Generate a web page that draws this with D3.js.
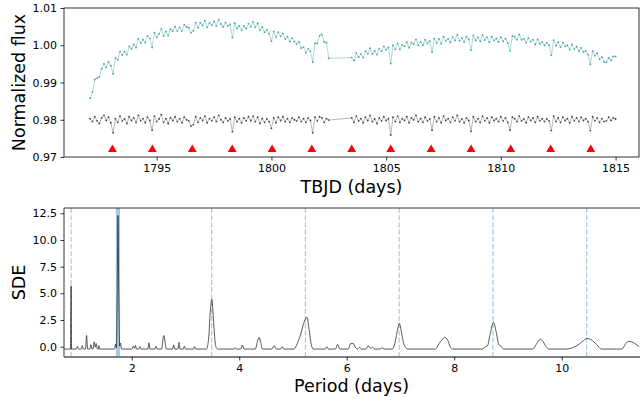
<!DOCTYPE html>
<html><head><meta charset="utf-8">
<script src="https://cdn.jsdelivr.net/npm/d3@7"></script>
<style>
body{margin:0;background:#fff;}
svg text{font-family:"DejaVu Sans",sans-serif;fill:#000;}
</style>
</head><body>
<svg id="c" width="640" height="401"></svg>
<script>
// ---------------- DATA ----------------
const orbitStarts = [1792.1, 1803.5];
const cadence = 0.1;
const rawFluxOrbit1 = [
0.9858,0.9875,0.9908,0.9912,0.9915,0.9937,0.9950,0.9941,0.9955,0.9945,
0.9923,0.9966,0.9961,0.9983,0.9974,0.9983,0.9975,0.9997,0.9991,1.0002,
0.9994,1.0017,1.0006,1.0015,1.0007,1.0025,1.0018,0.9994,1.0034,1.0021,
1.0030,1.0044,1.0025,1.0037,1.0026,1.0043,1.0038,1.0050,1.0038,1.0048,
1.0038,1.0055,1.0049,1.0047,1.0034,1.0039,1.0061,1.0047,1.0060,1.0053,
1.0066,1.0048,1.0060,1.0054,1.0064,1.0052,1.0069,1.0057,1.0049,1.0061,
1.0052,1.0056,1.0021,1.0059,1.0045,1.0052,1.0040,1.0052,1.0045,1.0058,
1.0050,1.0063,1.0048,1.0059,1.0040,1.0049,1.0035,1.0041,1.0031,1.0011,
1.0037,1.0022,1.0035,1.0024,1.0032,1.0017,1.0023,1.0010,1.0019,1.0010,
1.0003,1.0009,0.9992,0.9995,0.9980,0.9990,0.9984,0.9955,1.0005,1.0005,
1.0026,1.0029,1.0009,1.0007,0.9965];
const flatFluxOrbit1 = [
0.9803,0.9795,0.9808,0.9797,0.9790,0.9805,0.9812,0.9798,0.9807,0.9792,
0.9765,0.9803,0.9793,0.9810,0.9797,0.9802,0.9790,0.9808,0.9798,0.9805,
0.9793,0.9812,0.9797,0.9803,0.9792,0.9807,0.9798,0.9772,0.9810,0.9795,
0.9802,0.9814,0.9793,0.9803,0.9790,0.9805,0.9798,0.9808,0.9795,0.9803,
0.9792,0.9807,0.9800,0.9797,0.9783,0.9787,0.9808,0.9793,0.9805,0.9798,
0.9810,0.9792,0.9803,0.9797,0.9807,0.9795,0.9812,0.9800,0.9793,0.9805,
0.9797,0.9802,0.9768,0.9807,0.9795,0.9803,0.9792,0.9805,0.9797,0.9808,
0.9798,0.9810,0.9795,0.9807,0.9790,0.9803,0.9793,0.9802,0.9795,0.9777,
0.9805,0.9792,0.9807,0.9798,0.9808,0.9795,0.9803,0.9793,0.9805,0.9800,
0.9797,0.9807,0.9795,0.9803,0.9793,0.9805,0.9798,0.9765,0.9807,0.9797,
0.9808,0.9805,0.9793,0.9803,0.9799];
const rawFluxOrbit2 = [
0.9967,0.9959,0.9979,0.9968,0.9976,0.9967,0.9984,0.9977,0.9992,0.9977,
0.9985,0.9975,0.9991,0.9984,0.9997,0.9988,0.9994,0.9951,1.0000,0.9989,
1.0005,0.9989,1.0001,0.9997,1.0008,0.9993,1.0007,1.0003,1.0016,1.0000,
1.0009,1.0000,1.0015,1.0005,1.0011,0.9982,1.0018,1.0006,1.0017,1.0004,
1.0023,1.0012,1.0017,1.0008,1.0022,1.0013,1.0028,1.0012,1.0019,1.0009,
1.0023,1.0016,0.9987,1.0026,1.0013,1.0021,1.0011,1.0028,1.0014,1.0022,
1.0008,1.0023,1.0013,1.0018,1.0009,1.0022,1.0011,1.0018,1.0006,0.9985,
1.0025,1.0023,1.0015,1.0029,1.0015,1.0018,1.0007,1.0020,1.0010,1.0015,
1.0002,1.0016,1.0004,1.0009,1.0000,1.0006,1.0000,0.9973,1.0014,0.9999,
1.0008,0.9995,1.0007,0.9997,1.0000,0.9988,1.0002,0.9990,0.9996,0.9984,
0.9993,0.9982,0.9985,0.9975,0.9949,0.9984,0.9972,0.9978,0.9963,0.9968,
0.9955,0.9954,0.9966,0.9960,0.9970,0.9970];
const flatFluxOrbit2 = [
0.9805,0.9793,0.9810,0.9797,0.9803,0.9792,0.9807,0.9798,0.9812,0.9795,
0.9802,0.9790,0.9805,0.9797,0.9808,0.9798,0.9803,0.9759,0.9807,0.9795,
0.9810,0.9793,0.9803,0.9798,0.9808,0.9792,0.9805,0.9800,0.9812,0.9795,
0.9803,0.9793,0.9807,0.9797,0.9802,0.9772,0.9808,0.9795,0.9805,0.9792,
0.9810,0.9798,0.9803,0.9793,0.9807,0.9797,0.9812,0.9795,0.9802,0.9792,
0.9805,0.9798,0.9769,0.9808,0.9795,0.9803,0.9793,0.9810,0.9797,0.9805,
0.9792,0.9807,0.9798,0.9803,0.9795,0.9808,0.9797,0.9805,0.9793,0.9772,
0.9807,0.9803,0.9795,0.9810,0.9797,0.9802,0.9792,0.9807,0.9798,0.9805,
0.9793,0.9808,0.9797,0.9803,0.9795,0.9802,0.9797,0.9771,0.9810,0.9795,
0.9805,0.9793,0.9807,0.9798,0.9803,0.9792,0.9808,0.9797,0.9805,0.9795,
0.9807,0.9798,0.9803,0.9795,0.9771,0.9808,0.9797,0.9805,0.9793,0.9803,
0.9795,0.9797,0.9807,0.9798,0.9805,0.9802];
const transitTimes = [1793.07,1794.81,1796.55,1798.29,1800.03,1801.76,1803.50,1805.20,1806.96,1808.70,1810.43,1812.17,1813.92];
const transitMarkerLevel = 0.972;

const periodGrid = [0.745,0.862,0.872,0.880,0.97,0.99,1.01,1.06,1.08,1.10,1.14,1.16,1.18,1.22,1.24,1.26,1.28,1.30,1.32,1.34,1.36,1.38,1.39,1.40,
1.68,1.70,1.715,1.73,1.744,1.758,1.775,1.79,1.81,2.00,2.03,2.05,2.07,2.09,2.13,2.15,2.17,2.30,2.32,2.34,2.43,2.45,2.47,2.56,2.58,2.60,2.62,2.64,
2.76,2.78,2.80,2.86,2.88,2.90,2.96,2.98,3.00,3.15,3.17,3.19,3.39,3.43,3.46,3.49,3.52,3.55,3.58,3.61,3.90,3.92,3.95,4.03,4.06,4.09,
4.30,4.34,4.37,4.40,4.43,4.61,4.65,4.69,4.77,4.80,4.83,5.02,5.08,5.14,5.20,5.26,5.30,5.34,5.38,5.60,5.63,5.66,5.79,5.83,5.87,
6.03,6.07,6.12,6.16,6.20,6.24,6.27,6.36,6.40,6.44,6.48,6.52,6.62,6.66,6.70,6.85,6.90,6.95,6.98,7.02,7.06,7.10,7.14,
7.65,7.72,7.78,7.82,7.88,7.93,7.97,8.52,8.58,8.62,8.67,8.73,8.78,8.83,8.87,8.92,9.46,9.53,9.60,9.65,9.71,9.76,
10.10,10.20,10.30,10.40,10.47,10.55,10.65,10.74,11.12,11.18,11.24,11.30,11.36,11.44];
const sdePower = [-0.22,-0.22,5.7,-0.22,-0.22,0.05,-0.22,-0.22,0.1,-0.22,-0.22,1.05,-0.22,-0.22,0.2,-0.22,-0.22,0.45,-0.05,0.3,-0.22,-0.22,0.1,-0.22,
-0.22,0.25,-0.1,5.5,12.3,5.5,0.05,0.35,-0.22,-0.22,0.05,-0.15,0.12,-0.22,-0.22,0.0,-0.22,-0.22,0.37,-0.22,-0.22,0.05,-0.22,-0.22,0.7,1.05,0.45,-0.22,
-0.22,0.15,-0.22,-0.22,0.4,-0.22,-0.22,0.05,-0.22,-0.22,0.0,-0.22,-0.22,0.7,3.2,4.44,2.6,0.5,-0.15,-0.22,-0.22,-0.1,-0.22,-0.22,0.16,-0.22,
-0.22,0.5,0.88,0.4,-0.22,-0.22,0.1,-0.22,-0.22,0.0,-0.22,-0.22,0.3,1.1,2.2,2.75,1.6,0.2,-0.22,-0.22,0.0,-0.22,-0.22,0.22,-0.22,
-0.22,0.28,0.3,-0.05,-0.22,-0.05,-0.22,-0.22,0.1,-0.15,-0.05,-0.22,-0.22,-0.1,-0.22,-0.22,0.4,1.7,2.19,1.3,0.3,-0.1,-0.22,
-0.22,0.3,0.7,0.88,0.6,-0.05,-0.22,-0.22,0.0,0.1,1.2,2.29,1.4,0.2,0.05,-0.22,-0.22,0.25,0.69,0.5,0.0,-0.22,
-0.22,-0.1,0.15,0.55,0.78,0.65,0.2,-0.22,-0.22,0.2,0.5,0.45,0.3,0.0];
const bestPeriod = 1.744;
const harmonicPeriods = [0.872,3.488,5.232,6.976,8.720,10.464];

const fluxTicks = [0.97,0.98,0.99,1.00,1.01];
const timeTicks = [1795,1800,1805,1810,1815];
const sdeTicks = [0,2.5,5,7.5,10,12.5];
const periodTicks = [2,4,6,8,10];

// ---------------- BUILD ----------------
const svg = d3.select("#c");
const lcPoints = [];
[[rawFluxOrbit1, flatFluxOrbit1],[rawFluxOrbit2, flatFluxOrbit2]].forEach(([raw, flat], k) => {
  raw.forEach((v, i) => lcPoints.push({t: orbitStarts[k] + i*cadence, raw: v, flat: flat[i]}));
});
const pg = periodGrid.map((p, i) => ({p, s: sdePower[i]}));

// top panel
const T = {l:64, r:639, t:8, b:157};
const x1 = d3.scaleLinear().domain([1790.96, 1816.02]).range([T.l, T.r]);
const y1 = d3.scaleLinear().domain([0.97, 1.01]).range([T.b, T.t]);

const defs = svg.append("defs");
defs.append("clipPath").attr("id","clipTop").append("rect").attr("x",T.l).attr("y",T.t).attr("width",T.r-T.l).attr("height",T.b-T.t);

const gTop = svg.append("g").attr("clip-path","url(#clipTop)");
const lineRaw = d3.line().x(d=>x1(d.t)).y(d=>y1(d.raw));
const lineFlat = d3.line().x(d=>x1(d.t)).y(d=>y1(d.flat));
gTop.append("path").datum(lcPoints).attr("d",lineRaw).attr("fill","none").attr("stroke","#a6d6d6").attr("stroke-width",0.9);
gTop.selectAll("circle.raw").data(lcPoints).join("circle").attr("class","raw")
  .attr("cx",d=>x1(d.t)).attr("cy",d=>y1(d.raw)).attr("r",0.9).attr("fill","#45a3a3");
gTop.append("path").datum(lcPoints).attr("d",lineFlat).attr("fill","none").attr("stroke","#b0b0b0").attr("stroke-width",0.9);
gTop.selectAll("circle.flat").data(lcPoints).join("circle").attr("class","flat")
  .attr("cx",d=>x1(d.t)).attr("cy",d=>y1(d.flat)).attr("r",0.9).attr("fill","#444");
gTop.selectAll("path.tri").data(transitTimes).join("path").attr("class","tri")
  .attr("d", d3.symbol().type(d3.symbolTriangle).size(34))
  .attr("transform", d=>`translate(${x1(d)},${y1(transitMarkerLevel)})`)
  .attr("fill","#ff0000");

svg.append("rect").attr("x",T.l).attr("y",T.t).attr("width",T.r-T.l).attr("height",T.b-T.t)
  .attr("fill","none").attr("stroke","#000").attr("stroke-width",0.8);

svg.append("g").attr("transform",`translate(0,${T.b})`)
  .call(d3.axisBottom(x1).tickValues(timeTicks).tickFormat(d3.format("d")).tickSize(3.5).tickPadding(3.5));
svg.append("g").attr("transform",`translate(${T.l},0)`)
  .call(d3.axisLeft(y1).tickValues(fluxTicks).tickFormat(d3.format(".2f")).tickSize(3.5).tickPadding(3.5));

// bottom panel
const B = {l:64, r:639, t:208, b:357};
const x2 = d3.scaleLinear().domain([0.740, 11.438]).range([B.l, B.r]);
const y2 = d3.scaleLinear().domain([-0.965, 12.997]).range([B.b, B.t]);
defs.append("clipPath").attr("id","clipBot").append("rect").attr("x",B.l).attr("y",B.t).attr("width",B.r-B.l+2).attr("height",B.b-B.t);
const gBot = svg.append("g").attr("clip-path","url(#clipBot)");
gBot.append("line").attr("x1",x2(bestPeriod)).attr("x2",x2(bestPeriod)).attr("y1",B.t).attr("y2",B.b)
  .attr("stroke","#1f77b4").attr("stroke-opacity",0.4).attr("stroke-width",4.2);
gBot.selectAll("line.harm").data(harmonicPeriods).join("line").attr("class","harm")
  .attr("x1",d=>x2(d)).attr("x2",d=>x2(d)).attr("y1",B.t).attr("y2",B.b)
  .attr("stroke","#1f77b4").attr("stroke-opacity",0.4).attr("stroke-width",1.2).attr("stroke-dasharray","5,2.2");
gBot.append("path").datum(pg).attr("d", d3.line().curve(d3.curveMonotoneX).x(d=>x2(d.p)).y(d=>y2(d.s)))
  .attr("fill","none").attr("stroke","#222").attr("stroke-width",0.75);

svg.append("line").attr("x1",B.l).attr("x2",640).attr("y1",B.t).attr("y2",B.t).attr("stroke","#000").attr("stroke-width",0.8);
svg.append("line").attr("x1",B.l).attr("x2",B.l).attr("y1",B.t).attr("y2",B.b).attr("stroke","#000").attr("stroke-width",0.8);
svg.append("line").attr("x1",B.l).attr("x2",640).attr("y1",B.b).attr("y2",B.b).attr("stroke","#7f7f7f").attr("stroke-width",2);

svg.append("g").attr("transform",`translate(0,${B.b})`)
  .call(d3.axisBottom(x2).tickValues(periodTicks).tickFormat(d3.format("d")).tickSize(3.5).tickPadding(3.5));
svg.append("g").attr("transform",`translate(${B.l},0)`)
  .call(d3.axisLeft(y2).tickValues(sdeTicks).tickFormat(d3.format(".1f")).tickSize(3.5).tickPadding(3.5));

svg.selectAll(".domain").remove();
svg.selectAll(".tick line").attr("stroke","#000").attr("stroke-width",0.8);
svg.selectAll(".tick text").style("font-size","11px").style("font-family","DejaVu Sans, sans-serif").attr("fill","#000");

// labels
svg.append("text").attr("x",(T.l+T.r)/2).attr("y",192.5).attr("text-anchor","middle").style("font-size","17.5px").text("TBJD (days)");
svg.append("text").attr("x",(B.l+B.r)/2).attr("y",392).attr("text-anchor","middle").style("font-size","17.5px").text("Period (days)");
svg.append("text").attr("transform",`translate(25,${(T.t+T.b)/2}) rotate(-90)`).attr("text-anchor","middle").style("font-size","17.5px").text("Normalized flux");
svg.append("text").attr("transform",`translate(25,${(B.t+B.b)/2}) rotate(-90)`).attr("text-anchor","middle").style("font-size","17.5px").text("SDE");
</script>
</body></html>
